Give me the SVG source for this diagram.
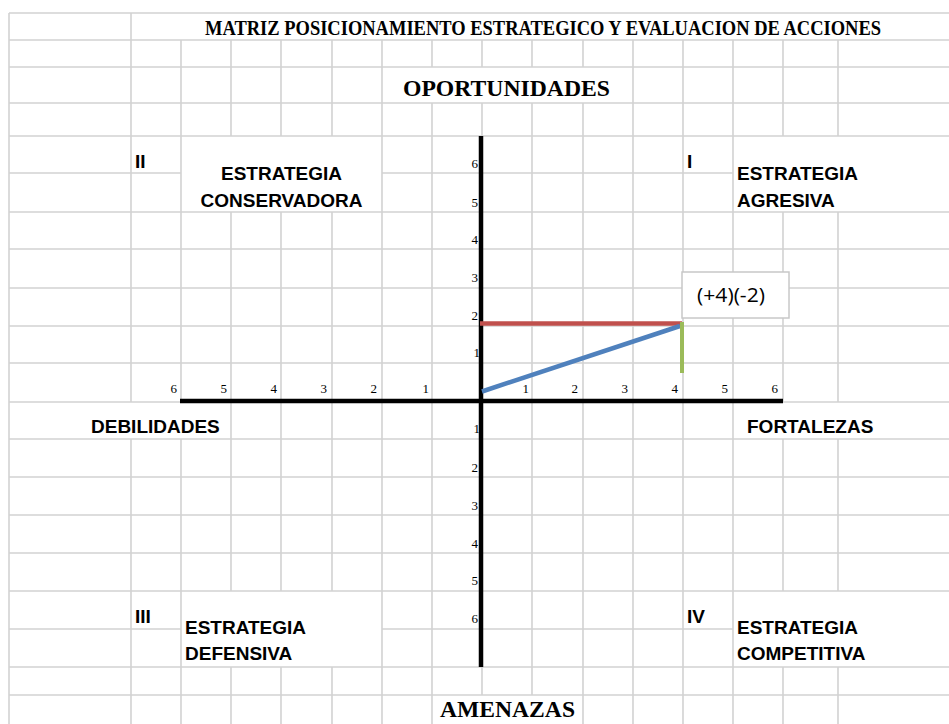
<svg xmlns="http://www.w3.org/2000/svg" width="949" height="724" viewBox="0 0 949 724">
<style>
.g{stroke:#d2d2d2;stroke-width:1.6;fill:none}
.ax{stroke:#000;stroke-width:4.5;fill:none}
.tkr{font-family:"Liberation Serif","Times New Roman",serif;font-size:13px;fill:#000;text-anchor:end}
.hd{font-family:"Liberation Serif","Times New Roman",serif;font-weight:bold;fill:#000}
.q{font-family:"Liberation Sans",Arial,sans-serif;font-weight:bold;font-size:19px;fill:#000}
.qc{font-family:"Liberation Sans",Arial,sans-serif;font-weight:bold;font-size:19px;fill:#000;text-anchor:middle}
</style>
<rect x="0" y="0" width="949" height="724" fill="#fff"/>
<g id="grid">
<path class="g" d="M9 13H949M9 40H949M9 67H949M9 103H949M9 136H949M9 173H181M382 173H733M9 212H949M9 249H949M9 288H949M9 326H949M9 363H949M9 402H949M9 439H949M9 477H949M9 515H949M9 553H949M9 591H949M9 629H181M382 629H733M9 667H949M9 695H949"/>
<path class="g" d="M9 13V724"/>
<path class="g" d="M131 13V40"/>
<path class="g" d="M131 40V67M181 40V67M231 40V67M281 40V67M332 40V67M382 40V67M432 40V67M482 40V67M532 40V67M583 40V67M633 40V67M683 40V67M733 40V67M783 40V67M838 40V67"/>
<path class="g" d="M131 67V103M181 67V103M231 67V103M281 67V103M332 67V103M382 67V103M633 67V103M683 67V103M733 67V103M783 67V103M838 67V103"/>
<path class="g" d="M131 103V136M181 103V136M231 103V136M281 103V136M332 103V136M382 103V136M432 103V136M482 103V136M532 103V136M583 103V136M633 103V136M683 103V136M733 103V136M783 103V136M838 103V136"/>
<path class="g" d="M131 136V212M181 136V212M382 136V212M432 136V212M482 136V212M532 136V212M583 136V212M633 136V212M683 136V212M733 136V212"/>
<path class="g" d="M131 212V402M181 212V402M231 212V402M281 212V402M332 212V402M382 212V402M432 212V402M482 212V402M532 212V402M583 212V402M633 212V402M683 212V402M733 212V402M783 212V402M838 212V402"/>
<path class="g" d="M231 402V439M281 402V439M332 402V439M382 402V439M432 402V439M482 402V439M532 402V439M583 402V439M633 402V439M683 402V439M733 402V439"/>
<path class="g" d="M131 439V591M181 439V591M231 439V591M281 439V591M332 439V591M382 439V591M432 439V591M482 439V591M532 439V591M583 439V591M633 439V591M683 439V591M733 439V591M783 439V591M838 439V591"/>
<path class="g" d="M131 591V667M181 591V667M382 591V667M432 591V667M482 591V667M532 591V667M583 591V667M633 591V667M683 591V667M733 591V667"/>
<path class="g" d="M131 667V695M181 667V695M231 667V695M281 667V695M332 667V695M382 667V695M432 667V695M482 667V695M532 667V695M583 667V695M633 667V695M683 667V695M733 667V695M783 667V695M838 667V695"/>
<path class="g" d="M131 695V724M181 695V724M231 695V724M281 695V724M332 695V724M382 695V724M432 695V724M583 695V724M633 695V724M683 695V724M733 695V724M783 695V724M838 695V724"/>
</g>
<g id="title">
<text class="hd" x="205" y="35" font-size="20" textLength="676" lengthAdjust="spacingAndGlyphs">MATRIZ POSICIONAMIENTO ESTRATEGICO Y EVALUACION DE ACCIONES</text>
</g>
<g id="oportunidades">
<text class="hd" x="403" y="96" font-size="24" textLength="207" lengthAdjust="spacingAndGlyphs">OPORTUNIDADES</text>
</g>
<g id="amenazas">
<text class="hd" x="440" y="717" font-size="23" textLength="135" lengthAdjust="spacingAndGlyphs">AMENAZAS</text>
</g>
<g id="debilidades">
<text class="q" x="91" y="433">DEBILIDADES</text>
</g>
<g id="fortalezas">
<text class="q" x="747" y="433">FORTALEZAS</text>
</g>
<g id="quadrant-II">
<text class="q" x="135" y="168">II</text>
<text class="qc" x="281.5" y="180">ESTRATEGIA</text>
<text class="qc" x="281.5" y="207">CONSERVADORA</text>
</g>
<g id="quadrant-I">
<text class="q" x="687" y="168">I</text>
<text class="q" x="737" y="180">ESTRATEGIA</text>
<text class="q" x="737" y="207">AGRESIVA</text>
</g>
<g id="quadrant-III">
<text class="q" x="135" y="623">III</text>
<text class="q" x="185" y="634">ESTRATEGIA</text>
<text class="q" x="185" y="660">DEFENSIVA</text>
</g>
<g id="quadrant-IV">
<text class="q" x="687" y="623">IV</text>
<text class="q" x="737" y="634">ESTRATEGIA</text>
<text class="q" x="737" y="660">COMPETITIVA</text>
</g>
<g id="tick-labels">
<text class="tkr" x="177" y="393">6</text>
<text class="tkr" x="227" y="393">5</text>
<text class="tkr" x="277" y="393">4</text>
<text class="tkr" x="327" y="393">3</text>
<text class="tkr" x="377" y="393">2</text>
<text class="tkr" x="429" y="393">1</text>
<text class="tkr" x="529" y="393">1</text>
<text class="tkr" x="578" y="393">2</text>
<text class="tkr" x="628" y="393">3</text>
<text class="tkr" x="678" y="393">4</text>
<text class="tkr" x="728" y="393">5</text>
<text class="tkr" x="778" y="393">6</text>
<text class="tkr" x="478" y="168">6</text>
<text class="tkr" x="478" y="207">5</text>
<text class="tkr" x="478" y="244">4</text>
<text class="tkr" x="478" y="282">3</text>
<text class="tkr" x="478" y="320">2</text>
<text class="tkr" x="480" y="357">1</text>
<text class="tkr" x="480" y="433">1</text>
<text class="tkr" x="478" y="472">2</text>
<text class="tkr" x="478" y="510">3</text>
<text class="tkr" x="478" y="548">4</text>
<text class="tkr" x="478" y="585">5</text>
<text class="tkr" x="478" y="623">6</text>
</g>
<g id="axes">
<path class="ax" d="M481 136V667"/>
<path class="ax" d="M180 401H783"/>
</g>
<g id="connectors">
<path d="M480 323.5H682" stroke="#c0504d" stroke-width="4.5" fill="none"/>
<path d="M482 391.5L680 326" stroke="#4f81bd" stroke-width="4.5" fill="none"/>
<path d="M682 322V373" stroke="#9bbb59" stroke-width="4" fill="none"/>
</g>
<g id="point-label">
<rect x="682" y="272" width="107" height="46" fill="#fff" stroke="#c8c8c8" stroke-width="1.5"/>
<text x="697" y="302" font-family="'Open Sans','Liberation Sans',sans-serif" font-size="20" fill="#000" textLength="68" lengthAdjust="spacingAndGlyphs">(+4)(-2)</text>
</g>
</svg>
